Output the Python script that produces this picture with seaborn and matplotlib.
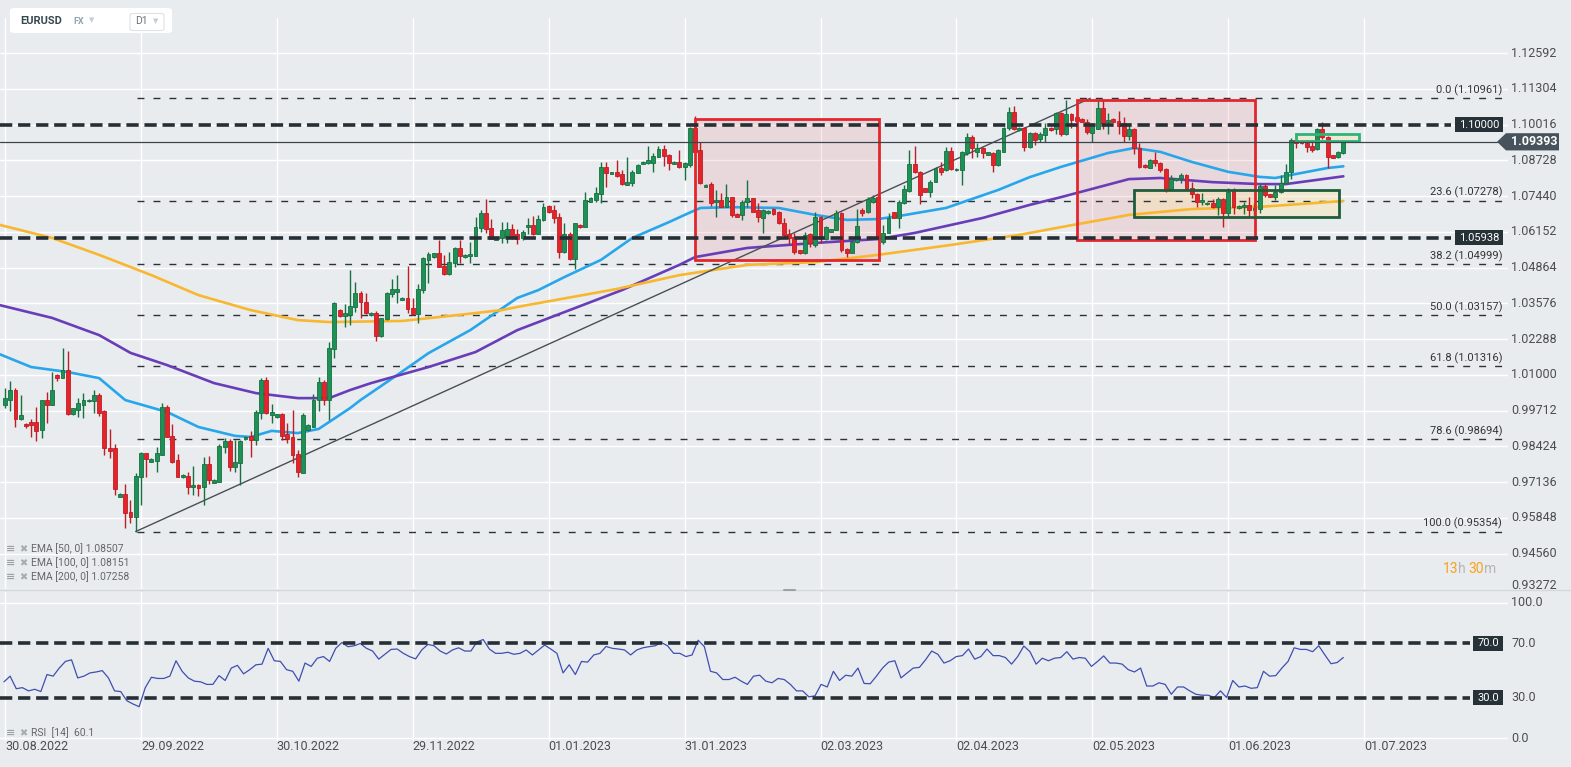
import numpy as np
import pandas as pd
import matplotlib
matplotlib.use("Agg")
import matplotlib.pyplot as plt
from matplotlib.patches import Rectangle, FancyBboxPatch, Polygon
from matplotlib.lines import Line2D
import seaborn as sns

# ---- daily candles EURUSD, one per trading day incl. sunday stubs ----
opens = [
    0.9993, 1.0011, 1.0047, 0.9939, 0.9921, 0.9930, 0.9929, 0.9900, 1.0008, 0.9993,
    1.0101, 1.0087, 1.0119, 0.9959, 0.9975, 0.9993, 1.0004, 1.0007, 1.0026, 0.9971,
    0.9835, 0.9835, 0.9661, 0.9671, 0.9607, 0.9589, 0.9731, 0.9817, 0.9787, 0.9791,
    0.9811, 0.9983, 0.9881, 0.9793, 0.9731, 0.9735, 0.9695, 0.9703, 0.9697, 0.9777,
    0.9711, 0.9715, 0.9839, 0.9863, 0.9769, 0.9781, 0.9867, 0.9881, 0.9865, 0.9961,
    1.0081, 0.9956, 0.9947, 0.9959, 0.9887, 0.9875, 0.9815, 0.9747, 0.9901, 0.9913,
    1.0009, 1.0073, 1.0009, 1.0192, 1.0334, 1.0312, 1.0316, 1.0343, 1.0394, 1.0364,
    1.0315, 1.0322, 1.0238, 1.0300, 1.0392, 1.0400, 1.0370, 1.0376, 1.0340, 1.0320,
    1.0404, 1.0514, 1.0524, 1.0538, 1.0492, 1.0462, 1.0502, 1.0556, 1.0524, 1.0528,
    1.0528, 1.0628, 1.0682, 1.0628, 1.0586, 1.0592, 1.0598, 1.0624, 1.0608, 1.0592,
    1.0632, 1.0640, 1.0608, 1.0656, 1.0708, 1.0692, 1.0670, 1.0544, 1.0608, 1.0516,
    1.0640, 1.0634, 1.0724, 1.0730, 1.0752, 1.0848, 1.0824, 1.0830, 1.0824, 1.0784,
    1.0790, 1.0826, 1.0860, 1.0862, 1.0864, 1.0886, 1.0912, 1.0892, 1.0860, 1.0868,
    1.0848, 1.0856, 1.0990, 1.0910, 1.0778, 1.0788, 1.0724, 1.0730, 1.0706, 1.0740,
    1.0680, 1.0676, 1.0724, 1.0736, 1.0692, 1.0664, 1.0682, 1.0696, 1.0688, 1.0648,
    1.0608, 1.0596, 1.0548, 1.0538, 1.0606, 1.0568, 1.0670, 1.0588, 1.0616, 1.0622,
    1.0682, 1.0552, 1.0540, 1.0580, 1.0694, 1.0688, 1.0724, 1.0740, 1.0580, 1.0612,
    1.0686, 1.0666, 1.0718, 1.0762, 1.0858, 1.0832, 1.0772, 1.0760, 1.0794, 1.0844,
    1.0838, 1.0906, 1.0836, 1.0838, 1.0898, 1.0958, 1.0904, 1.0918, 1.0892, 1.0898,
    1.0854, 1.0904, 1.0988, 1.1046, 1.0982, 1.0990, 1.0922, 1.0970, 1.0950, 1.0964,
    1.0990, 1.0986, 1.1042, 1.0966, 1.1038, 1.1030, 1.1020, 1.1012, 1.0970, 1.0984,
    1.1060, 1.1010, 1.1020, 1.1014, 1.1006, 1.0960, 1.0986, 1.0916, 1.0856, 1.0846,
    1.0872, 1.0862, 1.0840, 1.0770, 1.0800, 1.0810, 1.0818, 1.0772, 1.0752, 1.0722,
    1.0714, 1.0720, 1.0704, 1.0734, 1.0682, 1.0762, 1.0700, 1.0704, 1.0712, 1.0694,
    1.0696, 1.0780, 1.0750, 1.0742, 1.0758, 1.0792, 1.0830, 1.0946, 1.0940, 1.0936,
    1.0924, 1.0912, 1.0984, 1.0956, 1.0890, 1.0886, 1.0898,
]
highs = [
    1.0051, 1.0077, 1.0051, 1.0029, 0.9925, 0.9939, 0.9985, 1.0008, 1.0039, 1.0111,
    1.0103, 1.0195, 1.0185, 0.9981, 1.0015, 1.0033, 1.0013, 1.0045, 1.0033, 0.9975,
    0.9903, 0.9851, 0.9673, 0.9707, 0.9649, 0.9747, 0.9823, 0.9819, 0.9799, 0.9839,
    0.9999, 0.9991, 0.9923, 0.9813, 0.9741, 0.9751, 0.9771, 0.9705, 0.9803, 0.9807,
    0.9723, 0.9851, 0.9871, 0.9869, 0.9865, 0.9865, 0.9879, 0.9899, 0.9973, 1.0087,
    1.0093, 0.9995, 0.9959, 0.9963, 0.9925, 0.9973, 0.9829, 0.9963, 0.9921, 1.0031,
    1.0091, 1.0083, 1.0219, 1.0364, 1.0336, 1.0356, 1.0478, 1.0433, 1.0402, 1.0394,
    1.0326, 1.0330, 1.0306, 1.0400, 1.0444, 1.0460, 1.0380, 1.0492, 1.0376, 1.0428,
    1.0526, 1.0544, 1.0540, 1.0586, 1.0532, 1.0544, 1.0562, 1.0586, 1.0534, 1.0580,
    1.0670, 1.0694, 1.0732, 1.0660, 1.0596, 1.0652, 1.0652, 1.0644, 1.0624, 1.0622,
    1.0664, 1.0672, 1.0676, 1.0718, 1.0712, 1.0712, 1.0682, 1.0646, 1.0616, 1.0648,
    1.0644, 1.0760, 1.0740, 1.0776, 1.0868, 1.0868, 1.0832, 1.0872, 1.0838, 1.0886,
    1.0838, 1.0858, 1.0870, 1.0924, 1.0898, 1.0924, 1.0928, 1.0896, 1.0869, 1.0910,
    1.0866, 1.0992, 1.1032, 1.0940, 1.0787, 1.0796, 1.0764, 1.0756, 1.0788, 1.0742,
    1.0682, 1.0728, 1.0802, 1.0738, 1.0718, 1.0696, 1.0692, 1.0700, 1.0690, 1.0664,
    1.0624, 1.0610, 1.0550, 1.0616, 1.0610, 1.0688, 1.0672, 1.0636, 1.0626, 1.0694,
    1.0688, 1.0556, 1.0586, 1.0696, 1.0700, 1.0742, 1.0748, 1.0754, 1.0640, 1.0682,
    1.0688, 1.0728, 1.0784, 1.0910, 1.0926, 1.0834, 1.0774, 1.0800, 1.0850, 1.0866,
    1.0922, 1.0922, 1.0844, 1.0906, 1.0970, 1.0964, 1.0934, 1.0922, 1.0904, 1.0904,
    1.0914, 1.0994, 1.1066, 1.1070, 1.0992, 1.0994, 1.0974, 1.0974, 1.0976, 1.1006,
    1.0992, 1.1048, 1.1048, 1.1090, 1.1042, 1.1050, 1.1024, 1.1020, 1.1006, 1.1090,
    1.1092, 1.1042, 1.1024, 1.1050, 1.1030, 1.1006, 1.0990, 1.0934, 1.0858, 1.0876,
    1.0904, 1.0868, 1.0844, 1.0820, 1.0810, 1.0826, 1.0822, 1.0796, 1.0754, 1.0754,
    1.0722, 1.0732, 1.0742, 1.0738, 1.0772, 1.0772, 1.0710, 1.0722, 1.0740, 1.0720,
    1.0786, 1.0786, 1.0752, 1.0784, 1.0820, 1.0860, 1.0952, 1.0972, 1.0942, 1.0946,
    1.0946, 1.0990, 1.1012, 1.0960, 1.0892, 1.0906, 1.0944,
]
lows = [
    0.9981, 0.9971, 0.9911, 0.9937, 0.9910, 0.9877, 0.9863, 0.9873, 0.9927, 0.9993,
    1.0079, 1.0087, 0.9955, 0.9955, 0.9949, 0.9943, 1.0002, 0.9963, 0.9951, 0.9811,
    0.9799, 0.9667, 0.9659, 0.9547, 0.9567, 0.9535, 0.9631, 0.9733, 0.9785, 0.9751,
    0.9811, 0.9877, 0.9783, 0.9733, 0.9729, 0.9671, 0.9667, 0.9663, 0.9631, 0.9707,
    0.9709, 0.9715, 0.9817, 0.9755, 0.9751, 0.9703, 0.9865, 0.9805, 0.9847, 0.9941,
    0.9959, 0.9925, 0.9945, 0.9865, 0.9853, 0.9781, 0.9731, 0.9745, 0.9898, 0.9911,
    0.9971, 0.9991, 0.9937, 1.0162, 1.0310, 1.0272, 1.0280, 1.0328, 1.0304, 1.0320,
    1.0312, 1.0220, 1.0236, 1.0298, 1.0382, 1.0358, 1.0368, 1.0324, 1.0316, 1.0288,
    1.0394, 1.0430, 1.0522, 1.0488, 1.0460, 1.0460, 1.0488, 1.0502, 1.0522, 1.0504,
    1.0528, 1.0616, 1.0610, 1.0588, 1.0584, 1.0574, 1.0574, 1.0588, 1.0572, 1.0584,
    1.0608, 1.0604, 1.0606, 1.0654, 1.0684, 1.0646, 1.0520, 1.0538, 1.0514, 1.0480,
    1.0630, 1.0634, 1.0724, 1.0724, 1.0720, 1.0778, 1.0822, 1.0812, 1.0784, 1.0784,
    1.0780, 1.0826, 1.0858, 1.0860, 1.0832, 1.0884, 1.0852, 1.0836, 1.0858, 1.0844,
    1.0800, 1.0850, 1.0900, 1.0788, 1.0776, 1.0708, 1.0668, 1.0704, 1.0704, 1.0668,
    1.0668, 1.0656, 1.0706, 1.0686, 1.0652, 1.0612, 1.0680, 1.0676, 1.0644, 1.0598,
    1.0572, 1.0536, 1.0536, 1.0536, 1.0562, 1.0562, 1.0574, 1.0586, 1.0614, 1.0620,
    1.0544, 1.0524, 1.0538, 1.0576, 1.0672, 1.0684, 1.0718, 1.0586, 1.0570, 1.0610,
    1.0664, 1.0630, 1.0716, 1.0760, 1.0826, 1.0714, 1.0758, 1.0742, 1.0794, 1.0818,
    1.0834, 1.0838, 1.0834, 1.0784, 1.0892, 1.0880, 1.0886, 1.0880, 1.0890, 1.0830,
    1.0852, 1.0904, 1.0982, 1.0982, 1.0980, 1.0906, 1.0918, 1.0928, 1.0938, 1.0940,
    1.0980, 1.0966, 1.0962, 1.0964, 1.0988, 1.0960, 1.1010, 1.0966, 1.0940, 1.0984,
    1.0984, 1.0966, 1.1010, 1.0966, 1.0940, 1.0946, 1.0896, 1.0846, 1.0846, 1.0844,
    1.0852, 1.0832, 1.0760, 1.0766, 1.0798, 1.0790, 1.0764, 1.0736, 1.0706, 1.0712,
    1.0712, 1.0700, 1.0676, 1.0634, 1.0664, 1.0680, 1.0698, 1.0680, 1.0668, 1.0664,
    1.0684, 1.0740, 1.0740, 1.0730, 1.0754, 1.0786, 1.0804, 1.0918, 1.0930, 1.0904,
    1.0904, 1.0910, 1.0950, 1.0844, 1.0880, 1.0882, 1.0894,
]
closes = [
    1.0015, 1.0047, 0.9939, 0.9954, 0.9914, 0.9920, 0.9899, 1.0008, 0.9993, 1.0045,
    1.0087, 1.0117, 0.9959, 0.9979, 0.9997, 1.0011, 1.0011, 1.0026, 0.9961, 0.9835,
    0.9827, 0.9687, 0.9671, 0.9603, 0.9589, 0.9735, 0.9817, 0.9795, 0.9797, 0.9817,
    0.9983, 0.9877, 0.9787, 0.9733, 0.9739, 0.9697, 0.9703, 0.9693, 0.9777, 0.9721,
    0.9721, 0.9843, 0.9861, 0.9769, 0.9785, 0.9861, 0.9877, 0.9865, 0.9965, 1.0081,
    0.9961, 0.9966, 0.9959, 0.9881, 0.9869, 0.9811, 0.9751, 0.9954, 0.9919, 1.0011,
    1.0073, 1.0009, 1.0195, 1.0358, 1.0312, 1.0322, 1.0348, 1.0394, 1.0362, 1.0322,
    1.0322, 1.0238, 1.0304, 1.0394, 1.0408, 1.0408, 1.0378, 1.0336, 1.0320, 1.0410,
    1.0520, 1.0536, 1.0538, 1.0490, 1.0462, 1.0508, 1.0556, 1.0528, 1.0532, 1.0536,
    1.0632, 1.0682, 1.0624, 1.0588, 1.0594, 1.0622, 1.0624, 1.0600, 1.0588, 1.0616,
    1.0640, 1.0608, 1.0660, 1.0706, 1.0688, 1.0664, 1.0544, 1.0608, 1.0516, 1.0646,
    1.0632, 1.0730, 1.0738, 1.0754, 1.0848, 1.0828, 1.0830, 1.0816, 1.0788, 1.0796,
    1.0832, 1.0856, 1.0868, 1.0872, 1.0888, 1.0912, 1.0888, 1.0862, 1.0867, 1.0848,
    1.0864, 1.0988, 1.0904, 1.0790, 1.0785, 1.0720, 1.0730, 1.0706, 1.0742, 1.0676,
    1.0670, 1.0724, 1.0736, 1.0688, 1.0668, 1.0694, 1.0690, 1.0680, 1.0646, 1.0604,
    1.0592, 1.0544, 1.0538, 1.0604, 1.0574, 1.0670, 1.0588, 1.0634, 1.0624, 1.0682,
    1.0550, 1.0538, 1.0580, 1.0636, 1.0684, 1.0732, 1.0736, 1.0592, 1.0612, 1.0664,
    1.0666, 1.0724, 1.0770, 1.0858, 1.0830, 1.0748, 1.0760, 1.0796, 1.0844, 1.0830,
    1.0906, 1.0842, 1.0842, 1.0902, 1.0958, 1.0918, 1.0918, 1.0898, 1.0902, 1.0854,
    1.0910, 1.0990, 1.1048, 1.0986, 1.0990, 1.0922, 1.0970, 1.0946, 1.0966, 1.0988,
    1.0982, 1.1042, 1.0966, 1.1038, 1.1018, 1.1016, 1.1012, 1.0976, 1.1002, 1.1060,
    1.1008, 1.1018, 1.1012, 1.0998, 1.0960, 1.0986, 1.0916, 1.0850, 1.0848, 1.0872,
    1.0864, 1.0838, 1.0766, 1.0806, 1.0808, 1.0818, 1.0770, 1.0752, 1.0724, 1.0730,
    1.0720, 1.0704, 1.0734, 1.0682, 1.0760, 1.0706, 1.0708, 1.0712, 1.0694, 1.0700,
    1.0780, 1.0748, 1.0742, 1.0760, 1.0792, 1.0830, 1.0946, 1.0934, 1.0934, 1.0920,
    1.0910, 1.0984, 1.0956, 1.0886, 1.0882, 1.0902, 1.0939,
]

# EMA lines as shown on the chart (candle index, value)
ema50_idx = [-1, 5, 12, 18, 23, 31, 37, 44, 47, 51, 56, 60, 66, 68, 75, 81, 89, 98, 102, 107,
             114, 120, 127, 130, 133, 139, 148, 155, 161, 167, 171, 180, 190, 196, 202, 211, 216,
             221, 227, 234, 240, 243, 246, 253, 256]
ema50_val = [1.0174, 1.0128, 1.0110, 1.0088, 1.0009, 0.9966, 0.9912, 0.9880, 0.9876, 0.9898,
             0.9890, 0.9905, 0.9980, 1.0009, 1.0099, 1.0178, 1.0261, 1.0377, 1.0405, 1.0452,
             1.0514, 1.0593, 1.0650, 1.0676, 1.0701, 1.0704, 1.0701, 1.0676, 1.0658, 1.0661,
             1.0672, 1.0701, 1.0766, 1.0812, 1.0849, 1.0899, 1.0917, 1.0903, 1.0867, 1.0831,
             1.0813, 1.0809, 1.0820, 1.0845, 1.0851]
ema100_idx = [-1, 9, 18, 24, 31, 40, 48, 56, 62, 66, 70, 81, 90, 98, 108, 118, 129, 132, 142,
              155, 167, 174, 187, 196, 202, 215, 221, 231, 240, 245, 256]
ema100_val = [1.0351, 1.0305, 1.0243, 1.0179, 1.0135, 1.0070, 1.0034, 1.0016, 1.0016, 1.0045,
              1.0070, 1.0128, 1.0182, 1.0261, 1.0333, 1.0405, 1.0496, 1.0524, 1.0557, 1.0575,
              1.0589, 1.0611, 1.0665, 1.0712, 1.0740, 1.0805, 1.0809, 1.0794, 1.0787, 1.0787,
              1.0815]
ema200_idx = [-1, 9, 18, 28, 37, 47, 56, 62, 76, 85, 95, 99, 117, 129, 142, 155, 167, 181, 194,
              202, 215, 227, 240, 256]
ema200_val = [1.0640, 1.0593, 1.0532, 1.0459, 1.0387, 1.0333, 1.0297, 1.0290, 1.0294, 1.0312,
              1.0333, 1.0348, 1.0409, 1.0459, 1.0496, 1.0506, 1.0532, 1.0568, 1.0604, 1.0632,
              1.0676, 1.0697, 1.0705, 1.0726]

# RSI(14)
rsi_values = [
    41.6, 45.8, 36.5, 37.3, 34.9, 36.1, 34.4, 47.0, 45.8, 51.8, 56.7, 57.9, 44.5, 45.8, 48.2,
    48.9, 49.9, 44.5, 34.9, 34.4, 27.6, 25.2, 23.2, 37.3, 45.0, 44.1, 44.1, 45.8, 57.2, 49.4,
    44.5, 42.1, 41.6, 39.7, 39.7, 46.2, 42.6, 51.8, 53.8, 47.5, 50.6, 54.2, 54.7, 66.4, 57.2,
    56.7, 50.6, 49.4, 42.1, 55.5, 53.0, 59.1, 60.3, 56.7, 66.4, 70.7, 67.6, 68.3, 70.0, 66.4,
    64.4, 58.4, 62.0, 65.6, 65.9, 62.7, 60.3, 58.6, 65.2, 69.3, 68.3, 64.4, 62.2, 65.2, 66.8,
    64.4, 64.4, 71.2, 72.9, 65.9, 62.7, 62.7, 63.5, 62.0, 62.7, 65.2, 61.5, 65.2, 68.8, 65.9,
    62.7, 48.2, 54.2, 47.0, 56.7, 56.2, 61.5, 62.7, 67.8, 66.4, 65.9, 65.2, 61.5, 65.2, 66.8,
    67.6, 68.3, 70.7, 68.3, 62.7, 62.7, 60.3, 61.5, 72.4, 67.6, 49.4, 48.2, 43.3, 43.3, 45.0,
    42.1, 39.7, 45.8, 46.5, 42.1, 40.9, 44.1, 43.3, 39.7, 34.9, 34.9, 30.5, 31.2, 39.7, 37.8,
    49.4, 42.6, 46.5, 45.8, 51.8, 40.4, 40.2, 45.8, 51.8, 56.2, 57.2, 44.5, 48.2, 51.8, 52.3,
    57.9, 64.4, 62.0, 55.5, 57.2, 60.3, 61.0, 65.9, 58.4, 60.3, 65.9, 61.0, 61.0, 59.6, 54.7,
    60.3, 68.1, 63.9, 54.7, 59.1, 57.2, 59.1, 59.6, 63.9, 58.4, 59.6, 59.1, 53.0, 56.7, 60.8,
    55.5, 55.5, 54.7, 50.6, 48.9, 51.8, 38.5, 38.5, 40.9, 39.7, 32.4, 37.8, 37.8, 34.9, 32.4,
    31.7, 31.7, 30.0, 34.9, 30.0, 42.6, 37.8, 38.5, 36.8, 37.3, 49.4, 45.8, 46.2, 51.8, 56.7,
    66.8, 65.6, 65.6, 63.9, 68.3, 61.5, 55.0, 55.9, 59.6,
]

fib_ratios = ["0.0", "23.6", "38.2", "50.0", "61.8", "78.6", "100.0"]
fib_prices = [1.10961, 1.07278, 1.04999, 1.03157, 1.01316, 0.98694, 0.95354]
key_levels = [1.10000, 1.05938]
last_price = 1.09393
price_ticks = [1.12592, 1.11304, 1.10016, 1.08728, 1.07440, 1.06152, 1.04864, 1.03576,
               1.02288, 1.01000, 0.99712, 0.98424, 0.97136, 0.95848, 0.94560, 0.93272]
rsi_ticks = [100, 70, 30, 0]
date_pos = [0, 26, 52, 78, 104, 130, 156, 182, 208, 234, 260]
date_labels = ["30.08.2022", "29.09.2022", "30.10.2022", "29.11.2022", "01.01.2023",
               "31.01.2023", "02.03.2023", "02.04.2023", "02.05.2023", "01.06.2023", "01.07.2023"]
ema_labels = ["EMA [50, 0] 1.08507", "EMA [100, 0] 1.08151", "EMA [200, 0] 1.07258"]

# ---- style ----
sns.set_style("white")
plt.rcParams['font.family'] = ['Roboto', 'DejaVu Sans']

BG = '#E9ECEF'
GREEN, GREEN_E = '#1E9157', '#16703F'
RED, RED_E = '#E3242B', '#BE1D23'
W, H = 1571, 767

def fx(x):
    return x / W

def fy(y):
    return 1 - y / H

fig = plt.figure(figsize=(W / 100, H / 100), dpi=100, facecolor=BG)
ax = fig.add_axes([0, fy(589), fx(1508), (589 - 18) / H])
ax_r = fig.add_axes([0, fy(741), fx(1508), (741 - 592) / H])
for a in (ax, ax_r):
    a.set_facecolor('none')
    for s in a.spines.values():
        s.set_visible(False)
    a.set_xticks([])
    a.set_yticks([])
    a.set_xlim(-0.96, 287.5)
ax.set_ylim(0.93284, 1.13853)
ax_r.set_ylim(-2.2, 108.1)

# grid
for p in price_ticks:
    ax.axhline(p, color='white', lw=1, zorder=0.5)
for a in (ax, ax_r):
    for d in date_pos:
        a.axvline(d, color='white', lw=1, zorder=0.5)
for v in (100, 0):
    ax_r.axhline(v, color='white', lw=1, zorder=0.5)

# zones
zones = [(132.0, 167.2, 1.0514, 1.1022, '#E3262B', '#E0202F', 0.10),
         (205.1, 239.1, 1.0586, 1.1090, '#E3262B', '#E0202F', 0.10),
         (216.0, 255.2, 1.0670, 1.0766, '#1F5C3B', '#F9E6B0', 0.45),
         (247.0, 259.0, 1.0943, 1.0966, '#2DB37B', '#F9E6B0', 0.45)]
for x0, x1, y0, y1, ec, fc, al in zones:
    ax.add_patch(Rectangle((x0, y0), x1 - x0, y1 - y0, fc=fc, alpha=al, ec='none', zorder=1))
    ax.add_patch(Rectangle((x0, y0), x1 - x0, y1 - y0, fc='none', ec=ec, lw=2, zorder=3.5))

# fibonacci
ax.plot([25, 207.6], [fib_prices[-1], fib_prices[0]], color='#4a4f54', lw=1, zorder=2.5)
ax.hlines(fib_prices, 25.3, 286.6, colors='#2b3339', lw=1, linestyles=(0, (5, 6.5)), zorder=2)
for r, p in zip(fib_ratios, fib_prices):
    ax.text(286.4, p + 0.0017, f"{r} ({p:.5f})", ha='right', va='baseline', fontsize=8,
            color='#333333', zorder=5)

# EMAs
ema_df = pd.concat([
    pd.DataFrame({'idx': ema50_idx, 'val': ema50_val, 'ema': '50'}),
    pd.DataFrame({'idx': ema100_idx, 'val': ema100_val, 'ema': '100'}),
    pd.DataFrame({'idx': ema200_idx, 'val': ema200_val, 'ema': '200'}),
])
sns.lineplot(data=ema_df, x='idx', y='val', hue='ema', ax=ax, lw=1.9, legend=False,
             palette={'50': '#27A6EC', '100': '#6A3DB8', '200': '#F8B72E'}, zorder=2.2)
ax.set_xlabel('')
ax.set_ylabel('')

# candles
o, h, l, c = map(np.array, (opens, highs, lows, closes))
idx = np.arange(len(c))
up = c >= o
body_col = np.where(up, GREEN, RED)
edge_col = np.where(up, GREEN_E, RED_E)
ax.vlines(idx, l, h, colors=edge_col, lw=1.0, zorder=3)
ax.bar(idx, np.maximum(np.abs(c - o), 0.0003), bottom=np.minimum(o, c), width=0.74,
       color=body_col, edgecolor=edge_col, linewidth=0.6, zorder=3.2)

# key levels and last price
ax.hlines(key_levels, -1, 276.6, colors='#262F35', lw=2.6, linestyles=(0, (3.4, 1.6)), zorder=4)
yt = ax.get_yaxis_transform()
for lv in key_levels:
    ax.add_patch(Rectangle((1455 / 1508, lv - 0.0027), 48 / 1508, 0.0054, transform=yt,
                           fc='#263238', ec='none', zorder=6, clip_on=False))
    ax.text(1479 / 1508, lv, f"{lv:.5f}", transform=yt, ha='center', va='center',
            fontsize=8, color='white', zorder=7)
ax.axhline(last_price, xmax=1497 / 1508, color='#3A444B', lw=0.9, zorder=4)
ax.add_patch(Polygon([(1497 / 1508, last_price), (1506 / 1508, last_price + 0.0031),
                      (1559 / 1508, last_price + 0.0031), (1559 / 1508, last_price - 0.0031),
                      (1506 / 1508, last_price - 0.0031)], closed=True, transform=yt,
                     fc='#46535C', ec='none', zorder=6, clip_on=False))
ax.text(1511 / 1508, last_price, f"{last_price:.5f}", transform=yt, ha='left', va='center',
        fontsize=9, fontweight='bold', color='white', zorder=7)

# right price labels
for p in price_ticks:
    if abs(p - last_price) < 0.004:
        continue
    ax.text(1511 / 1508, max(p, 0.93416), f"{p:.5f}", transform=yt, ha='left', va='center',
            fontsize=9, color='#4d4d4d', clip_on=False)

# RSI panel
sns.lineplot(x=np.linspace(-0.2, 256, len(rsi_values)), y=rsi_values, ax=ax_r,
             color='#3F4FB0', lw=0.9, zorder=3)
ax_r.set_xlabel('')
ax_r.set_ylabel('')
ax_r.hlines([70, 30], -1, 280.3, colors='#262F35', lw=2.6, linestyles=(0, (3.4, 1.6)), zorder=4)
yr = ax_r.get_yaxis_transform()
for v in (70, 30):
    ax_r.add_patch(Rectangle((1473 / 1508, v - 5.5), 30 / 1508, 11, transform=yr,
                             fc='#263238', ec='none', zorder=6, clip_on=False))
    ax_r.text(1488 / 1508, v, f"{v:.1f}", transform=yr, ha='center', va='center',
              fontsize=8, color='white', zorder=7)
for v in rsi_ticks:
    ax_r.text(1511 / 1508, v, f"{v:.1f}", transform=yr, ha='left', va='center',
              fontsize=9, color='#4d4d4d', clip_on=False)

# date labels
xt = ax_r.get_xaxis_transform()
for d, lab in zip(date_pos, date_labels):
    ax_r.text(d, -0.04, lab, transform=xt, ha='left', va='center', fontsize=9,
              color='#4d4d4d', clip_on=False)

# panel separator
fig.add_artist(Line2D([0, 1], [fy(589.5)] * 2, color='#D2D8DC', lw=1))
fig.add_artist(Line2D([fx(784), fx(795)], [fy(590)] * 2, color='#9AA3AA', lw=1.5))

# indicator legends
for k, lab in enumerate(ema_labels):
    yy = fy(549 + 14 * k)
    fig.text(fx(6), yy, "≡", fontsize=8, color='#9aa1a6', va='center', fontweight='bold')
    fig.text(fx(19), yy, "✖", fontsize=7, color='#a5acb1', va='center')
    fig.text(fx(31), yy, lab, fontsize=7.5, color='#666666', va='center')
fig.text(fx(6), fy(733), "≡", fontsize=8, color='#9aa1a6', va='center', fontweight='bold')
fig.text(fx(19), fy(733), "✖", fontsize=7, color='#a5acb1', va='center')
fig.text(fx(31), fy(733), "RSI  [14]  60.1", fontsize=7.5, color='#666666', va='center')

# countdown
for xx, txt, col in [(1443, "13", '#F7A21B'), (1458, "h", '#B5B5B5'),
                     (1468, "30", '#F7A21B'), (1484, "m", '#B5B5B5')]:
    fig.text(fx(xx), fy(569), txt, fontsize=10, color=col, va='center')

# header box
fig.add_artist(FancyBboxPatch((fx(10), fy(33)), 162 / W, 25 / H,
                              boxstyle="round,pad=0,rounding_size=0.003",
                              fc='white', ec='none', transform=fig.transFigure))
fig.text(fx(20), fy(21.5), "EURUSD", fontsize=8, fontweight='bold', color='#37474F', va='center')
fig.text(fx(73), fy(21.5), "FX", fontsize=6.5, fontweight='bold', color='#90A4AE', va='center')
fig.text(fx(89), fy(21), "▼", fontsize=5, color='#C5CCD1', va='center')
fig.add_artist(FancyBboxPatch((fx(130), fy(30.5)), 34 / W, 17 / H,
                              boxstyle="round,pad=0,rounding_size=0.002",
                              fc='white', ec='#DDE2E5', lw=0.8, transform=fig.transFigure))
fig.text(fx(135), fy(21.5), "D1", fontsize=7.5, color='#6b7378', va='center')
fig.text(fx(153), fy(22), "▼", fontsize=5, color='#C5CCD1', va='center')

fig.savefig('out.png', dpi=100, facecolor=BG)
